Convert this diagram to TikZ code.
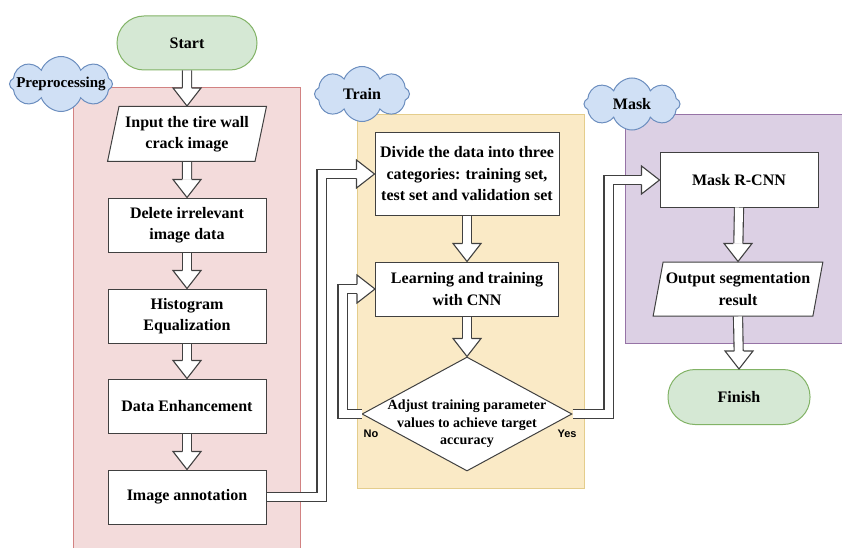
\documentclass[tikz,border=0pt]{standalone}
\usepackage{fontspec}
\setmainfont{Liberation Serif}
\setsansfont{Liberation Sans}
\usetikzlibrary{shapes.geometric,shapes.symbols,calc}
\definecolor{gfill}{RGB}{213,232,212}
\definecolor{gdraw}{RGB}{130,179,102}
\definecolor{cfill}{RGB}{208,224,245}
\definecolor{cdraw}{RGB}{108,142,191}
\definecolor{pfill}{RGB}{243,219,219}
\definecolor{pdraw}{RGB}{210,130,130}
\definecolor{yfill}{RGB}{250,234,198}
\definecolor{ydraw}{RGB}{228,205,140}
\definecolor{ufill}{RGB}{220,208,228}
\definecolor{udraw}{RGB}{150,115,166}
\newcommand\bxfont{\fontsize{16}{21.5}\selectfont\bfseries}
\newcommand\dmfont{\fontsize{14}{17.5}\selectfont\bfseries}
\newcommand\hhead[2]{\begin{scope}[shift={(#1)},rotate=#2]
\fill[white] (0,0) -- (-18,14) -- (-18,-14) -- cycle;
\draw[arrline] (-18,4.55) -- (-18,14) -- (0,0) -- (-18,-14) -- (-18,-4.55);
\end{scope}}
\tikzset{
  arrline/.style={draw=black!75, line width=1.1pt, line join=miter},
  shaft/.style={draw=black!75, line width=1.1pt, double=white, double distance=8pt, shorten >=18pt, line join=miter},
  box/.style={draw=black!75, line width=1pt, fill=white, minimum width=158pt, minimum height=54pt, align=center, font=\bxfont, inner sep=2pt},
  para/.style={box, trapezium, trapezium left angle=75, trapezium right angle=105, trapezium stretches=true},
  term/.style={draw=gdraw, fill=gfill, line width=1pt, minimum width=140pt, minimum height=54pt, rounded corners=27pt, font=\bxfont},
  cld/.style={cloud, cloud puffs=8, cloud puff arc=140, aspect=2, draw=cdraw, fill=cfill, line width=1pt, inner sep=0pt},
  cldtxt/.style={font=\fontsize{16}{18}\selectfont\bfseries},
  dmtxt/.style={font=\dmfont, align=center},
  yn/.style={font=\sffamily\bfseries\fontsize{11}{13}\selectfont}
}
\begin{document}
\begin{tikzpicture}[x=1pt,y=1pt]
\useasboundingbox (0,0) rectangle (842,547);
% containers
\fill[pfill] (73,-5) rectangle (300,459);
\draw[pdraw, line width=1pt] (73,-5) -- (73,459) -- (300,459) -- (300,-5);
\fill[yfill] (357,59) rectangle (584,432);
\draw[ydraw, line width=1pt] (357,59) rectangle (584,432);
\fill[ufill] (625,204) rectangle (850,432);
\draw[udraw, line width=1pt] (850,432) -- (625,432) -- (625,204) -- (850,204);
% clouds
\node[cld, minimum width=103pt, minimum height=55pt, label={[font=\fontsize{15}{17}\selectfont\bfseries]center:Preprocessing}] (pre) at (61,463) {};
\node[cld, minimum width=95pt, minimum height=55pt, label={[cldtxt]center:Train}] (trn) at (362,453) {};
\node[cld, minimum width=96pt, minimum height=52pt, label={[cldtxt]center:Mask}] (msk) at (632,443) {};
% nodes
\node[term] (start) at (187,504) {Start};
\node[para, minimum width=159pt, minimum height=55pt] (input) at (187,413) {Input the tire wall\\crack image};
\node[box] (del) at (187,322) {Delete irrelevant\\image data};
\node[box] (hist) at (187,231) {Histogram\\Equalization};
\node[box] (enh) at (187,141) {Data Enhancement};
\node[box] (annot) at (187,50) {Image annotation};
\node[box, minimum width=184pt, minimum height=82pt] (divide) at (467,373) {Divide the data into three\\categories: training set,\\test set and validation set};
\node[box, minimum width=183pt] (learn) at (467,258) {Learning and training\\with CNN};
\node[diamond, draw=black!75, line width=1pt, fill=white, minimum width=210pt, minimum height=114pt, inner sep=0pt,
  label={[dmtxt, yshift=-10pt]center:Adjust training parameter\\values to achieve target\\accuracy}] (dec) at (467,133) {};
\node[yn] (no) at (371,113) {No};
\node[yn] (yes) at (567,113) {Yes};
\node[box] (mrcnn) at (739,367) {Mask R-CNN};
\node[para, minimum width=170pt, minimum height=54pt] (out) at (738,258) {Output segmentation\\result};
\node[term, minimum width=142pt, minimum height=55pt] (fin) at (739,150) {Finish};
% connectors
\draw[shaft] (start.south) -- (input.north); \hhead{input.north}{-90}
\draw[shaft] (input.south) -- (del.north); \hhead{del.north}{-90}
\draw[shaft] (del.south) -- (hist.north); \hhead{hist.north}{-90}
\draw[shaft] (hist.south) -- (enh.north); \hhead{enh.north}{-90}
\draw[shaft] (enh.south) -- (annot.north); \hhead{annot.north}{-90}
\draw[shaft] (annot.east) -- ++(55,0) |- (divide.west); \hhead{divide.west}{0}
\draw[shaft] (divide.south) -- (learn.north); \hhead{learn.north}{-90}
\draw[shaft] (learn.south) -- (dec.north); \hhead{dec.north}{-90}
\draw[shaft] (dec.west) -- ++(-19,0) |- (learn.west); \hhead{learn.west}{0}
\draw[shaft] (dec.east) -- ++(36,0) |- (mrcnn.west); \hhead{mrcnn.west}{0}
\draw[shaft] (mrcnn.south) -- (out.north); \hhead{out.north}{-90}
\draw[shaft] (out.south) -- (fin.north); \hhead{fin.north}{-90}
\end{tikzpicture}
\end{document}
